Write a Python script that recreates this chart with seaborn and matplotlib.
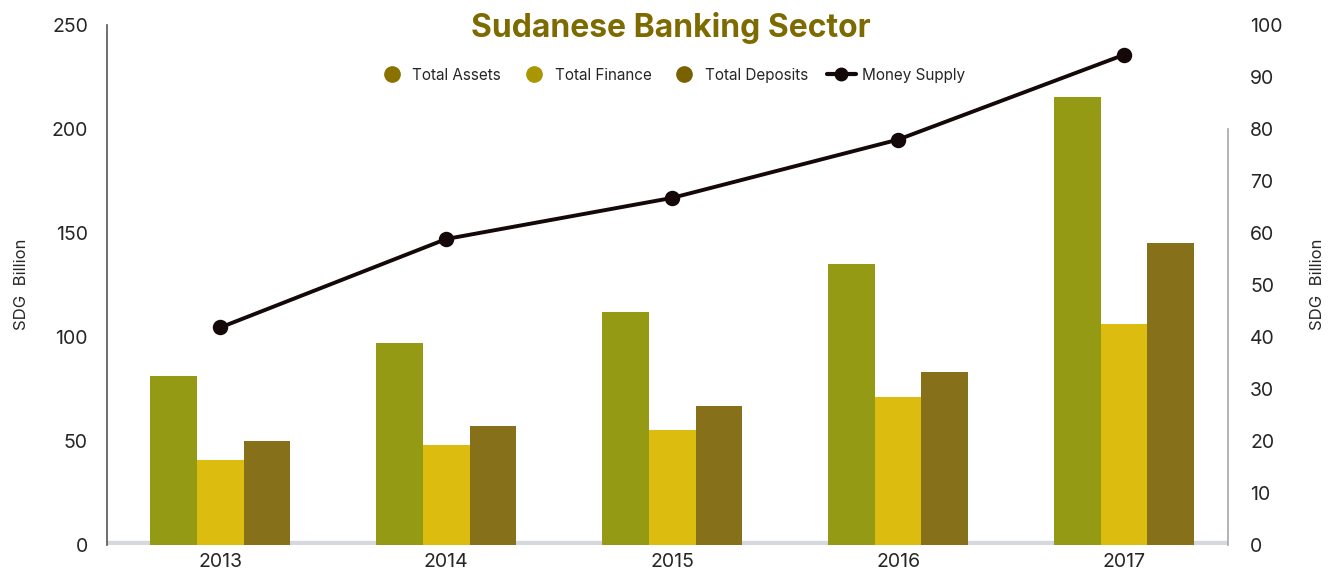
import pandas as pd
import matplotlib.pyplot as plt
import seaborn as sns
from matplotlib.lines import Line2D

years = ['2013', '2014', '2015', '2016', '2017']
total_assets = [81, 97, 112, 135, 215]
total_finance = [41, 48, 55, 71, 106]
total_deposits = [50, 57, 67, 83, 145]
money_supply = [41.8, 58.8, 66.7, 77.9, 94.2]

sns.set_theme(style='white')
plt.rcParams['font.family'] = ['Inter', 'DejaVu Sans']

bar_colors = {'Total Assets': '#959a14', 'Total Finance': '#dcbc0e', 'Total Deposits': '#86701a'}
legend_colors = {'Total Assets': '#8a7200', 'Total Finance': '#a99600', 'Total Deposits': '#7a6100'}

df = pd.DataFrame({
    'year': years * 3,
    'series': ['Total Assets'] * 5 + ['Total Finance'] * 5 + ['Total Deposits'] * 5,
    'value': total_assets + total_finance + total_deposits,
})
ms = pd.DataFrame({'year': years, 'money': money_supply})

fig = plt.figure(figsize=(13.42, 5.86), dpi=100)
ax = fig.add_axes([0.08, 0.07, 0.835, 0.888])

sns.barplot(data=df, x='year', y='value', hue='series', palette=bar_colors,
            width=0.62, gap=0, linewidth=0, ax=ax, legend=False, saturation=1)

ax.set_ylim(0, 250)
ax.set_xlim(-0.5, 4.46)
ax.set_yticks(range(0, 251, 50))
ax.set_xlabel('')
ax.set_ylabel('SDG  Billion', fontsize=12, labelpad=16)
ax.tick_params(axis='both', length=0, labelsize=14, pad=6)
ax.tick_params(axis='y', pad=14)
for s in ['top', 'right', 'bottom']:
    ax.spines[s].set_visible(False)
ax.spines['left'].set_color('#555555')
ax.spines['left'].set_linewidth(1.2)
ax.axhline(0, color='#d5d8dc', lw=6, zorder=0)

ax2 = ax.twinx()
sns.pointplot(data=ms, x='year', y='money', color='#140808', markers='o',
              markersize=9, linewidth=2.8, ax=ax2)
ax2.set_xlim(-0.5, 4.46)
ax2.set_ylim(0, 100)
ax2.set_yticks(range(0, 101, 10))
ax2.set_ylabel('SDG  Billion', fontsize=12, labelpad=20)
ax2.tick_params(axis='y', length=0, labelsize=14, pad=16)
for s in ['top', 'left', 'bottom']:
    ax2.spines[s].set_visible(False)
ax2.spines['right'].set_color('#aaaaaa')
ax2.spines['right'].set_bounds(0, 80)

fig.text(0.5, 0.953, 'Sudanese Banking Sector', ha='center', va='center',
         fontsize=23, fontweight='bold', color='#7d6a00')

handles = [Line2D([], [], marker='o', ls='', markersize=11, color=legend_colors[k], label=k)
           for k in ['Total Assets', 'Total Finance', 'Total Deposits']]
handles.append(Line2D([], [], marker='o', color='#140808', lw=3, markersize=9, label='Money Supply'))
fig.legend(handles=handles, loc='center', bbox_to_anchor=(0.5, 0.872), ncol=4,
           frameon=False, fontsize=11, handletextpad=0.4, columnspacing=1.2, handlelength=1.9)

fig.savefig('out.png', dpi=100)
